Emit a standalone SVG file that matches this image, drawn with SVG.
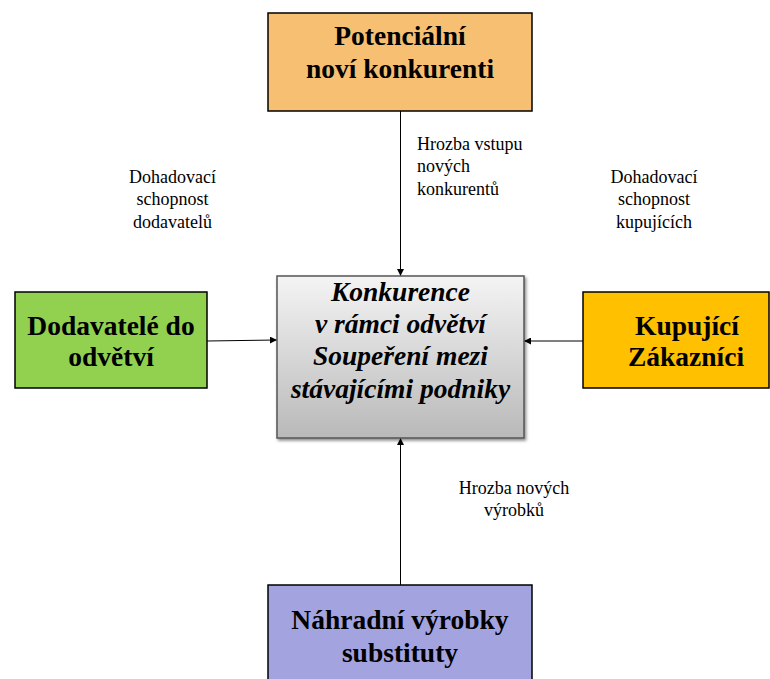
<svg xmlns="http://www.w3.org/2000/svg" width="770" height="679" viewBox="0 0 770 679">
<defs>
<linearGradient id="g" x1="0" y1="0" x2="0" y2="1">
<stop offset="0" stop-color="#f4f4f4"/>
<stop offset="1" stop-color="#b9b9b9"/>
</linearGradient>
<filter id="sh" x="-10%" y="-10%" width="120%" height="120%">
<feDropShadow dx="1.5" dy="2" stdDeviation="1.5" flood-color="#000" flood-opacity="0.45"/>
</filter>
<marker id="ar" viewBox="0 0 10 10" refX="10" refY="5" markerWidth="7" markerHeight="7" markerUnits="userSpaceOnUse" orient="auto">
<path d="M0,0 L10,5 L0,10 z" fill="#000"/>
</marker>
</defs>
<rect width="770" height="679" fill="#fff"/>
<g id="connectors" stroke="#000" stroke-width="1" fill="none" marker-end="url(#ar)">
<line x1="400.5" y1="111" x2="400.5" y2="276"/>
<line x1="207" y1="341" x2="277" y2="340"/>
<line x1="583" y1="341" x2="524" y2="341"/>
<line x1="400.5" y1="585" x2="400.5" y2="438"/>
</g>
<g id="potencialni" font-family="Liberation Serif" font-weight="bold" font-size="27.5" text-anchor="middle">
<rect x="268" y="13" width="264" height="98" fill="#F6BF72" stroke="#000" stroke-width="1.5"/>
<text x="400" y="45">Potenciální</text>
<text x="400" y="78">noví konkurenti</text>
</g>
<g id="konkurence" font-family="Liberation Serif" font-weight="bold" font-style="italic" font-size="27.5" text-anchor="middle">
<rect x="277" y="276" width="247" height="162" fill="url(#g)" stroke="#555" stroke-width="1.5" filter="url(#sh)"/>
<text x="400.5" y="301">Konkurence</text>
<text x="400.5" y="333">v rámci odvětví</text>
<text x="400.5" y="365">Soupeření mezi</text>
<text x="400.5" y="398">stávajícími podniky</text>
</g>
<g id="dodavatele" font-family="Liberation Serif" font-weight="bold" font-size="27.5" text-anchor="middle">
<rect x="15" y="292" width="192" height="96" fill="#92D050" stroke="#000" stroke-width="1.5"/>
<text x="111" y="335">Dodavatelé do</text>
<text x="111" y="366">odvětví</text>
</g>
<g id="kupujici" font-family="Liberation Serif" font-weight="bold" font-size="27.5" text-anchor="middle">
<rect x="583" y="292" width="186" height="96" fill="#FFC000" stroke="#000" stroke-width="1.5"/>
<text x="687" y="335">Kupující</text>
<text x="686" y="366">Zákazníci</text>
</g>
<g id="nahradni" font-family="Liberation Serif" font-weight="bold" font-size="27.5" text-anchor="middle">
<rect x="268" y="585" width="264" height="100" fill="#A3A3E0" stroke="#000" stroke-width="1.5"/>
<text x="400" y="629">Náhradní výrobky</text>
<text x="400" y="662">substituty</text>
</g>
<g id="labels" font-family="Liberation Serif" font-size="18">
<text x="417" y="150">Hrozba vstupu</text>
<text x="417" y="172">nových</text>
<text x="417" y="195">konkurentů</text>
<g text-anchor="middle">
<text x="172.5" y="183">Dohadovací</text>
<text x="172.5" y="205">schopnost</text>
<text x="172.5" y="228">dodavatelů</text>
<text x="654" y="183">Dohadovací</text>
<text x="654" y="205">schopnost</text>
<text x="654" y="228">kupujících</text>
<text x="514" y="494">Hrozba nových</text>
<text x="514" y="516">výrobků</text>
</g>
</g>
</svg>
